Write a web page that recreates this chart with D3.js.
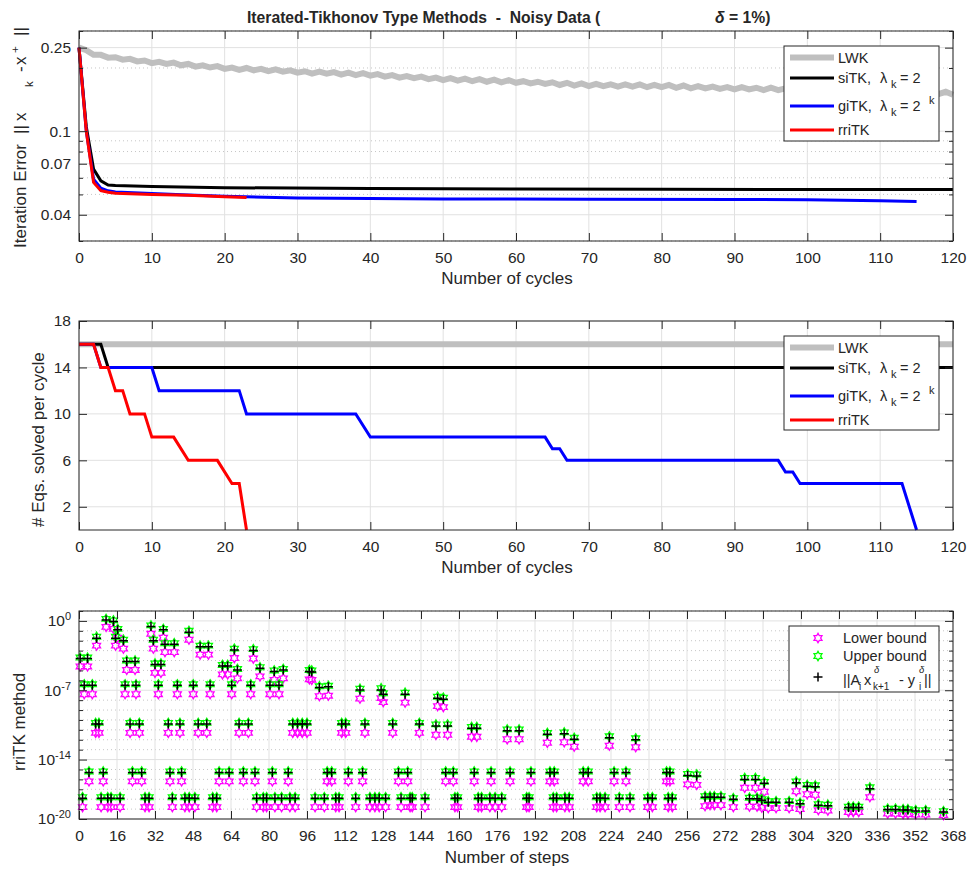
<!DOCTYPE html>
<html>
<head>
<meta charset="utf-8">
<script src="https://cdn.jsdelivr.net/npm/d3@7"></script>
<style>
  body { margin: 0; background: #fff; }
  text { font-family: "Liberation Sans", Arial, Helvetica, sans-serif; fill: #262626; }
</style>
</head>
<body>
<div id="chart"></div>
<script>
// ---------- panel 1 : iteration error vs cycles
const lwkErr = [0.250,0.243,0.231,0.231,0.224,0.225,0.219,0.221,0.215,0.217,
  0.211,0.214,0.209,0.212,0.206,0.209,0.203,0.206,0.201,0.204,
  0.198,0.201,0.196,0.200,0.195,0.198,0.193,0.197,0.192,0.195,
  0.190,0.193,0.188,0.192,0.188,0.191,0.186,0.190,0.185,0.189,
  0.184,0.187,0.182,0.185,0.180,0.183,0.179,0.182,0.177,0.180,
  0.175,0.179,0.174,0.178,0.173,0.177,0.172,0.176,0.171,0.175,
  0.170,0.173,0.169,0.172,0.168,0.171,0.166,0.170,0.165,0.169,
  0.164,0.168,0.164,0.167,0.163,0.167,0.163,0.167,0.162,0.166,
  0.162,0.166,0.161,0.165,0.160,0.164,0.160,0.163,0.159,0.162,
  0.158,0.162,0.158,0.161,0.157,0.161,0.157,0.160,0.156,0.160,
  0.156,0.160,0.155,0.159,0.155,0.158,0.154,0.158,0.154,0.157,
  0.153,0.157,0.152,0.156,0.152,0.155,0.151,0.154,0.150,0.154,0.149]
const sitkCycle = [0,1,2,3,4,5,10,20,40,60,80,100,120]
const sitkErr = [0.25,0.105,0.066,0.058,0.0554,0.0551,0.0545,0.0538,0.0534,0.0531,0.0529,0.0528,0.0527]
const gitkCycle = [0,1,2,3,4,5,10,15,20,30,50,70,90,100,105,110,115]
const gitkErr = [0.25,0.1,0.059,0.0535,0.052,0.0513,0.0505,0.0497,0.049,0.0481,0.0476,0.0474,0.0473,0.0472,0.0469,0.0466,0.0462]
const rritkCycle = [0,1,2,3,4,5,10,15,20,23]
const rritkErr = [0.25,0.1,0.057,0.0521,0.0512,0.0507,0.05,0.0495,0.0488,0.0484]

// ---------- panel 2 : equations solved per cycle
const lwkEqCycle = [0,120]
const lwkEq = [16,16]
const sitkEqCycle = [0,3,4,120]
const sitkEq = [16,16,14,14]
const gitkEqCycle = [0,2,3,10,11,22,23,38,40,64,65,66,67,96,97,98,99,113,115]
const gitkEq = [16,16,14,14,12,12,10,10,8,8,7,7,6,6,5,5,4,4,0]
const rritkEqCycle = [0,2,3,4,5,6,7,9,10,13,15,19,21,22,23]
const rritkEq = [16,16,14,14,12,12,10,10,8,8,6,6,4,4,0]

// ---------- panel 3 : rriTK bounds per step (log10 of the values)
const rriStep = [0.5,1.5,2.2,3.6,4.2,5.6,7,7.4,8.4,9.3,
  10.2,11.4,12.1,13.5,14.5,15.4,16.3,17.3,18.7,19.4,
  20.1,21.5,22.5,23.6,24,25.4,26.4,27.8,29.5,30.3,
  31.3,32,33.4,34.5,35.5,36.2,37.6,38.3,39.3,40.1,
  41.4,42.5,43.2,44.6,46.3,46.4,48.1,48.8,50.2,51,
  53.8,54.5,55.2,56.3,58,59,60.4,62.6,63.2,64.3,
  65.4,66.7,67.4,69.2,71.3,72.3,73.4,74.1,74.8,76.2,
  77.6,79,80.4,81.4,82.2,82.5,84.2,85.3,86,88.1,
  88.8,90,91,92,94,96,97,98,99.4,101.2,
  103.3,104.5,105,106.4,108.1,109.5,110.6,112.3,113.4,116.5,
  118.3,119.4,120.4,122.5,124.6,126.4,127.2,128.1,129.1,132.1,
  134.5,135.6,137.3,138.4,139.4,140.3,143.3,145.7,150.3,151,
  153.4,154.4,155.2,157.6,158.3,159.4,165.3,166.4,167.5,168.1,
  169.5,173,173.5,175.2,178,180.3,181.5,185.3,188.5,189.5,
  190.3,197.2,198.3,199.7,200.1,201.1,204.3,204.6,206.4,208.5,
  212.3,214.4,218,219.4,221.5,223.3,225.3,227.5,230.3,232,
  234.4,239.5,241.4,247.4,248.1,248.8,249.8,256.3,260.1,263.6,
  265.7,267.5,270.3,275.5,280.3,282.3,284.8,285.5,287.5,288.5,
  290.2,293.5,299,302,303.6,306.6,310,311.3,315.3,324,
  326,328.3,333,340.5,343.8,347,349,352.3,356.5,364]
const rriResidLog = [-3.8,-17.9,-6.5,-3.8,-15.3,-6.5,-10.4,-1.75,-10.4,-17.9,
  -15.3,0.1,-17.9,-17.9,-0.07,-1.75,-0.9,-17.9,-2.0,-6.5,
  -4.1,-10.4,-15.3,-4.1,-6.5,-10.4,-15.3,-17.9,-17.9,-0.57,
  -2.0,-4.4,-6.5,-4.4,-0.9,-2.36,-10.4,-15.3,-17.9,-2.36,
  -6.5,-10.4,-15.3,-17.9,-1.15,-17.9,-6.5,-17.9,-10.4,-2.6,
  -10.4,-2.6,-6.5,-17.9,-17.9,-15.3,-4.55,-4.55,-15.3,-6.5,
  -2.93,-4.95,-10.4,-15.3,-10.4,-6.5,-3.0,-15.3,-17.9,-4.78,
  -17.9,-17.9,-6.5,-15.3,-5.12,-17.9,-6.5,-17.9,-4.95,-15.3,
  -17.9,-10.4,-17.9,-10.4,-10.4,-10.4,-5.1,-5.15,-17.9,-6.73,
  -17.9,-15.3,-6.65,-15.3,-17.9,-17.9,-10.4,-10.4,-15.3,-17.9,
  -6.97,-15.3,-10.4,-17.9,-17.9,-17.9,-6.97,-7.4,-17.9,-10.4,
  -15.3,-17.9,-7.4,-15.3,-17.9,-17.9,-10.4,-17.9,-10.6,-7.8,
  -7.9,-15.3,-10.6,-15.3,-17.9,-17.9,-10.84,-15.3,-10.84,-17.9,
  -17.9,-17.9,-15.3,-17.9,-17.9,-11.1,-15.3,-11.1,-17.9,-17.9,
  -15.3,-11.45,-15.3,-17.9,-15.3,-17.9,-11.4,-17.9,-17.9,-11.95,
  -15.3,-15.3,-17.9,-17.9,-17.9,-11.8,-15.3,-17.9,-15.3,-17.9,
  -12.0,-17.9,-17.9,-15.3,-17.9,-15.3,-17.9,-15.6,-15.65,-17.8,
  -17.8,-17.8,-17.8,-18.0,-16.0,-17.95,-16.0,-17.95,-18.1,-16.4,
  -18.3,-18.3,-18.3,-16.35,-18.45,-16.7,-16.75,-18.6,-18.65,-18.85,
  -18.85,-18.85,-16.95,-19.05,-19.05,-19.1,-19.1,-19.2,-19.2,-19.3]
const rriUpperLog = [-3.7,-17.8,-6.4,-3.7,-15.2,-6.4,-10.3,-1.6,-10.3,-17.8,
  -15.2,0.2,-17.8,-17.8,0.05,-1.6,-0.8,-17.8,-1.9,-6.4,
  -4.0,-10.3,-15.2,-4.0,-6.4,-10.3,-15.2,-17.8,-17.8,-0.45,
  -1.9,-4.3,-6.4,-4.3,-0.8,-2.25,-10.3,-15.2,-17.8,-2.25,
  -6.4,-10.3,-15.2,-17.8,-1.0,-17.8,-6.4,-17.8,-10.3,-2.5,
  -10.3,-2.5,-6.4,-17.8,-17.8,-15.2,-4.45,-4.45,-15.2,-6.4,
  -2.8,-4.85,-10.3,-15.2,-10.3,-6.4,-2.85,-15.2,-17.8,-4.68,
  -17.8,-17.8,-6.4,-15.2,-5.0,-17.8,-6.4,-17.8,-4.85,-15.2,
  -17.8,-10.3,-17.8,-10.3,-10.3,-10.3,-4.95,-5.0,-17.8,-6.6,
  -17.8,-15.2,-6.55,-15.2,-17.8,-17.8,-10.3,-10.3,-15.2,-17.8,
  -6.85,-15.2,-10.3,-17.8,-17.8,-17.8,-6.8,-7.3,-17.8,-10.3,
  -15.2,-17.8,-7.25,-15.2,-17.8,-17.8,-10.3,-17.8,-10.45,-7.65,
  -7.75,-15.2,-10.45,-15.2,-17.8,-17.8,-10.7,-15.2,-10.7,-17.8,
  -17.8,-17.8,-15.2,-17.8,-17.8,-10.95,-15.2,-10.95,-17.8,-17.8,
  -15.2,-11.3,-15.2,-17.8,-15.2,-17.8,-11.25,-17.8,-17.8,-11.8,
  -15.2,-15.2,-17.8,-17.8,-17.8,-11.65,-15.2,-17.8,-15.2,-17.8,
  -11.85,-17.8,-17.8,-15.2,-17.8,-15.2,-17.8,-15.45,-15.5,-17.7,
  -17.7,-17.7,-17.7,-17.9,-15.85,-17.85,-15.85,-17.85,-18.0,-16.25,
  -18.2,-18.2,-18.2,-16.2,-18.35,-16.55,-16.6,-18.5,-18.55,-18.75,
  -18.75,-18.75,-16.8,-18.95,-18.95,-19.0,-19.0,-19.1,-19.1,-19.2]
const rriLowerLog = [-4.6,-18.8,-7.4,-4.6,-16.2,-7.4,-11.3,-2.5,-11.3,-18.8,
  -16.2,-0.6,-18.8,-18.8,-0.8,-2.5,-1.7,-18.8,-2.8,-7.4,
  -4.95,-11.3,-16.2,-4.95,-7.4,-11.3,-16.2,-18.8,-18.8,-1.3,
  -2.8,-5.25,-7.4,-5.25,-1.7,-3.15,-11.3,-16.2,-18.8,-3.15,
  -7.4,-11.3,-16.2,-18.8,-1.9,-18.8,-7.4,-18.8,-11.3,-3.4,
  -11.3,-3.4,-7.4,-18.8,-18.8,-16.2,-5.4,-5.4,-16.2,-7.4,
  -3.75,-5.8,-11.3,-16.2,-11.3,-7.4,-3.8,-16.2,-18.8,-5.6,
  -18.8,-18.8,-7.4,-16.2,-5.95,-18.8,-7.4,-18.8,-5.8,-16.2,
  -18.8,-11.3,-18.8,-11.3,-11.3,-11.3,-5.9,-5.95,-18.8,-7.6,
  -18.8,-16.2,-7.55,-16.2,-18.8,-18.8,-11.3,-11.3,-16.2,-18.8,
  -7.85,-16.2,-11.3,-18.8,-18.8,-18.8,-7.8,-8.2,-18.8,-11.3,
  -16.2,-18.8,-8.25,-16.2,-18.8,-18.8,-11.3,-18.8,-11.5,-8.6,
  -8.7,-16.2,-11.5,-16.2,-18.8,-18.8,-11.7,-16.2,-11.7,-18.8,
  -18.8,-18.8,-16.2,-18.8,-18.8,-11.95,-16.2,-11.95,-18.8,-18.8,
  -16.2,-12.3,-16.2,-18.8,-16.2,-18.8,-12.25,-18.8,-18.8,-12.7,
  -16.2,-16.2,-18.8,-18.8,-18.8,-12.6,-16.2,-18.8,-16.2,-18.8,
  -12.75,-18.8,-18.8,-16.2,-18.8,-16.2,-18.8,-16.5,-16.55,-18.7,
  -18.6,-18.6,-18.6,-18.8,-16.85,-18.75,-16.85,-18.75,-18.85,-17.25,
  -18.9,-18.9,-18.9,-17.2,-19.0,-17.5,-17.55,-19.1,-19.15,-19.3,
  -19.3,-19.3,-17.8,-19.45,-19.45,-19.5,-19.5,-19.55,-19.55,-19.6]

const cycleTicks = d3.range(0, 121, 10)
const errTicks = [0.04, 0.07, 0.1, 0.25]
const errMinor = [0.03, 0.05, 0.06, 0.08, 0.09, 0.2, 0.3]
const eqTicks = [2, 6, 10, 14, 18]
const stepTicks = d3.range(0, 369, 16)
const bndTicks = [1e-20, 1e-14, 1e-7, 1]

const L = 79, R = 953
const ink = '#262626'
const colors = { lwk: '#bfbfbf', sitk: '#000000', gitk: '#0000ff', rritk: '#ff0000' }

const svg = d3.select('#chart').append('svg')
  .attr('width', 967).attr('height', 870)

// ---------- helpers
function grid(g, x, y, xt, yt, ym) {
  const [yb, ytop] = y.range()
  g.append('g').selectAll('line').data(ym || []).join('line')
    .attr('x1', L).attr('x2', R).attr('y1', d => y(d)).attr('y2', d => y(d))
    .attr('stroke', '#c6c6c6').attr('stroke-dasharray', '1,3')
  g.append('g').selectAll('line').data(xt).join('line')
    .attr('x1', d => x(d)).attr('x2', d => x(d)).attr('y1', yb).attr('y2', ytop)
    .attr('stroke', '#e1e1e1')
  g.append('g').selectAll('line').data(yt).join('line')
    .attr('x1', L).attr('x2', R).attr('y1', d => y(d)).attr('y2', d => y(d))
    .attr('stroke', '#e1e1e1')
}

function frame(g, x, y, xt, yt, ym, yfmt) {
  const [yb, ytop] = y.range()
  g.append('g').attr('transform', `translate(0,${yb})`)
    .call(d3.axisBottom(x).tickValues(xt).tickSize(-8).tickPadding(11))
  g.append('g').attr('transform', `translate(0,${ytop})`)
    .call(d3.axisTop(x).tickValues(xt).tickSize(-8).tickFormat(''))
  let left = g.append('g').attr('transform', `translate(${L},0)`)
    .call(d3.axisLeft(y).tickValues(yt).tickSize(-8).tickPadding(8).tickFormat(yfmt || (d => d)))
  g.append('g').attr('transform', `translate(${R},0)`)
    .call(d3.axisRight(y).tickValues(yt).tickSize(-8).tickFormat(''))
  if (ym) {
    g.append('g').attr('transform', `translate(${L},0)`)
      .call(d3.axisLeft(y).tickValues(ym).tickSize(-4).tickFormat(''))
    g.append('g').attr('transform', `translate(${R},0)`)
      .call(d3.axisRight(y).tickValues(ym).tickSize(-4).tickFormat(''))
  }
  g.selectAll('.domain').remove()
  g.selectAll('.tick line').attr('stroke', ink)
  g.selectAll('.tick text').attr('font-size', 15.5)
  g.append('rect').attr('x', L).attr('y', ytop).attr('width', R - L).attr('height', yb - ytop)
    .attr('fill', 'none').attr('stroke', ink)
  return left
}

function vtext(x, y, s, size) {
  return svg.append('text').attr('transform', `translate(${x},${y}) rotate(-90)`)
    .attr('font-size', size).style('white-space', 'pre').text(s)
}

function label(x, y, s, size, anchor) {
  return svg.append('text').attr('x', x).attr('y', y).attr('font-size', size)
    .attr('text-anchor', anchor || 'start').style('white-space', 'pre').text(s)
}

function lineLegend(x0, y0, h) {
  svg.append('rect').attr('x', x0).attr('y', y0).attr('width', 155).attr('height', h)
    .attr('fill', '#fff').attr('stroke', ink)
  const rows = [
    { key: 'lwk', dy: 11.5, w: 6 },
    { key: 'sitk', dy: 32, w: 3 },
    { key: 'gitk', dy: 60, w: 3 },
    { key: 'rritk', dy: 84, w: 3 }
  ]
  rows.forEach(r => {
    svg.append('line').attr('x1', x0 + 6).attr('x2', x0 + 50)
      .attr('y1', y0 + r.dy).attr('y2', y0 + r.dy)
      .attr('stroke', colors[r.key]).attr('stroke-width', r.w)
  })
  const tx = x0 + 54
  label(tx, y0 + 16.5, 'LWK', 14.5)
  label(tx, y0 + 37, 'siTK,', 14.5)
  label(x0 + 96, y0 + 37, 'λ', 14.5)
  label(x0 + 107, y0 + 42, 'k', 11)
  label(x0 + 116, y0 + 37, '= 2', 14.5)
  label(tx, y0 + 65, 'giTK,', 14.5)
  label(x0 + 96, y0 + 65, 'λ', 14.5)
  label(x0 + 107, y0 + 70, 'k', 11)
  label(x0 + 116, y0 + 65, '= 2', 14.5)
  label(x0 + 145, y0 + 58, 'k', 11)
  label(tx, y0 + 89, 'rriTK', 14.5)
}

// ---------- title
label(247, 23, 'Iterated-Tikhonov Type Methods  -  Noisy Data (', 15.7).attr('font-weight', 'bold')
label(715, 23, '', 15.7).attr('font-weight', 'bold')
  .call(t => { t.append('tspan').attr('font-style', 'italic').text('δ'); t.append('tspan').text(' = 1%)') })

// ---------- panel 1
const x1 = d3.scaleLinear().domain([0, 120]).range([L, R])
const y1 = d3.scaleLog().domain([0.03, 0.3]).range([241, 31])
const g1 = svg.append('g')
grid(g1, x1, y1, cycleTicks, errTicks, errMinor)

const errLine = (xs) => d3.line().x((d, i) => x1(xs[i])).y(d => y1(d))
g1.append('path').datum(lwkErr).attr('d', d3.line().x((d, i) => x1(i)).y(d => y1(d)))
  .attr('fill', 'none').attr('stroke', colors.lwk).attr('stroke-width', 6)
g1.append('path').datum(sitkErr).attr('d', errLine(sitkCycle))
  .attr('fill', 'none').attr('stroke', colors.sitk).attr('stroke-width', 3)
g1.append('path').datum(gitkErr).attr('d', errLine(gitkCycle))
  .attr('fill', 'none').attr('stroke', colors.gitk).attr('stroke-width', 3)
g1.append('path').datum(rritkErr).attr('d', errLine(rritkCycle))
  .attr('fill', 'none').attr('stroke', colors.rritk).attr('stroke-width', 3)
frame(g1, x1, y1, cycleTicks, errTicks, errMinor)

label(507, 284, 'Number of cycles', 17, 'middle')
vtext(26, 248, 'Iteration Error', 17)
vtext(26, 134, '||', 17)
vtext(26, 121, 'x', 17)
vtext(33, 87, 'k', 11.5)
vtext(26, 72, '-', 17)
vtext(26, 65, 'x', 17)
vtext(19, 53, '+', 11.5)
vtext(26, 36, '||', 17)
lineLegend(784, 46, 95)

// ---------- panel 2
const x2 = d3.scaleLinear().domain([0, 120]).range([L, R])
const y2 = d3.scaleLinear().domain([0, 18]).range([530, 321])
const g2 = svg.append('g')
grid(g2, x2, y2, cycleTicks, eqTicks)

const eqLine = (xs) => d3.line().x((d, i) => x2(xs[i])).y(d => y2(d))
g2.append('path').datum(lwkEq).attr('d', eqLine(lwkEqCycle))
  .attr('fill', 'none').attr('stroke', colors.lwk).attr('stroke-width', 6)
g2.append('path').datum(sitkEq).attr('d', eqLine(sitkEqCycle))
  .attr('fill', 'none').attr('stroke', colors.sitk).attr('stroke-width', 3)
g2.append('path').datum(gitkEq).attr('d', eqLine(gitkEqCycle))
  .attr('fill', 'none').attr('stroke', colors.gitk).attr('stroke-width', 3)
g2.append('path').datum(rritkEq).attr('d', eqLine(rritkEqCycle))
  .attr('fill', 'none').attr('stroke', colors.rritk).attr('stroke-width', 3)
frame(g2, x2, y2, cycleTicks, eqTicks)

label(507, 573, 'Number of cycles', 17, 'middle')
vtext(44, 527, '# Eqs. solved per cycle', 17)
lineLegend(784, 336, 94)

// ---------- panel 3
const x3 = d3.scaleLinear().domain([0, 368]).range([L, R])
const y3 = d3.scaleLog().domain([1e-20, 10]).range([819, 611])
const decades = d3.range(-19, 1).filter(e => ![-14, -7, 0].includes(e)).map(e => Math.pow(10, e))
const g3 = svg.append('g')
grid(g3, x3, y3, stepTicks, bndTicks, decades.concat([10]))

function hexagram(r) {
  const pts = d3.range(12).map(i => {
    const a = Math.PI / 6 * i - Math.PI / 2
    const rr = i % 2 ? r / Math.sqrt(3) : r
    return [rr * Math.cos(a), rr * Math.sin(a)]
  })
  return 'M' + pts.join('L') + 'Z'
}
const star = hexagram(4.6)
const plus = 'M-4.5,0H4.5M0,-4.5V4.5'

g3.append('g').selectAll('path').data(rriLowerLog).join('path')
  .attr('transform', (d, i) => `translate(${x3(rriStep[i])},${y3(Math.pow(10, d))})`)
  .attr('d', star).attr('fill', 'none').attr('stroke', '#ff00ff').attr('stroke-width', 1.3)
g3.append('g').selectAll('path').data(rriUpperLog).join('path')
  .attr('transform', (d, i) => `translate(${x3(rriStep[i])},${y3(Math.pow(10, d))})`)
  .attr('d', star).attr('fill', 'none').attr('stroke', '#00ff00').attr('stroke-width', 1.3)
g3.append('g').selectAll('path').data(rriResidLog).join('path')
  .attr('transform', (d, i) => `translate(${x3(rriStep[i])},${y3(Math.pow(10, d))})`)
  .attr('d', plus).attr('fill', 'none').attr('stroke', '#000').attr('stroke-width', 1.5)

const left3 = frame(g3, x3, y3, stepTicks, bndTicks, decades.concat([10]))
left3.selectAll('.tick text').each(function (d) {
  const t = d3.select(this)
  t.text('')
  t.append('tspan').text('10')
  t.append('tspan').attr('dy', '-0.55em').attr('font-size', 11).text(Math.round(Math.log10(d)))
})

label(507, 863, 'Number of steps', 17, 'middle')
vtext(25, 771, 'rriTK method', 17)

// legend panel 3
svg.append('rect').attr('x', 789).attr('y', 626).attr('width', 150).attr('height', 66)
  .attr('fill', '#fff').attr('stroke', ink)
svg.append('path').attr('transform', 'translate(818,638)').attr('d', star)
  .attr('fill', 'none').attr('stroke', '#ff00ff').attr('stroke-width', 1.3)
svg.append('path').attr('transform', 'translate(818,656)').attr('d', star)
  .attr('fill', 'none').attr('stroke', '#00ff00').attr('stroke-width', 1.3)
svg.append('path').attr('transform', 'translate(818,677)').attr('d', plus)
  .attr('fill', 'none').attr('stroke', '#000').attr('stroke-width', 1.5)
label(843, 643, 'Lower bound', 14.5)
label(843, 661, 'Upper bound', 14.5)
label(843, 685, '||A', 14.5)
label(859, 690, 'i', 10)
label(864, 685, 'x', 14.5)
label(874, 673, 'δ', 9.5).attr('font-style', 'italic')
label(873, 690, 'k+1', 10)
label(899, 685, '- y', 14.5)
label(919, 673, 'δ', 9.5).attr('font-style', 'italic')
label(919, 690, 'i', 10)
label(924, 685, '||', 14.5)
</script>
</body>
</html>
